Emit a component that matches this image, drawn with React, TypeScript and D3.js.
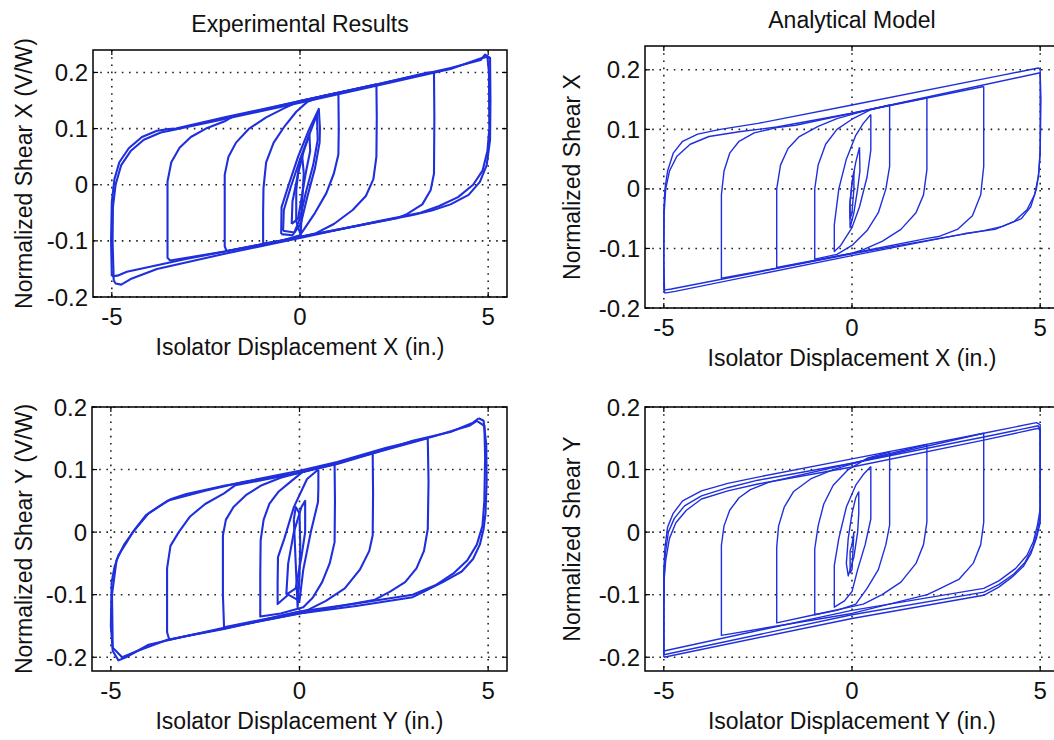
import React from "react";
import * as d3 from "d3";

type Pt = [number, number];

// ---- Experimental X (top left) ----
const expX_5a: Pt[] = [[-5.0,-0.163],[-5.02,-0.1],[-5.0,-0.03],[-4.93,0.01],[-4.8,0.04],[-4.55,0.065],[-4.2,0.085],[-3.8,0.096],[-3.5,0.099],[-3.3,0.1],[-2,0.12],[0,0.149],[2,0.178],[4,0.208],[4.8,0.222],[4.92,0.232],[5.05,0.226],[5.06,0.15],[5.05,0.08],[4.96,0.035],[4.78,0.005],[4.48,-0.018],[4.0,-0.035],[3.5,-0.046],[3.0,-0.054],[1,-0.08],[-1,-0.106],[-3,-0.132],[-4.6,-0.155],[-4.85,-0.162],[-5.0,-0.163]];
const expX_5b: Pt[] = [[-4.95,-0.17],[-4.98,-0.1],[-4.97,-0.04],[-4.9,0.0],[-4.75,0.035],[-4.5,0.06],[-4.15,0.08],[-3.7,0.093],[-3.4,0.097],[-2,0.117],[0,0.146],[2,0.176],[4,0.206],[4.85,0.226],[4.98,0.228],[5.02,0.2],[5.03,0.1],[4.98,0.06],[4.85,0.025],[4.6,0.0],[4.2,-0.022],[3.7,-0.038],[3.2,-0.05],[2,-0.066],[0,-0.095],[-2,-0.123],[-3.8,-0.15],[-4.5,-0.168],[-4.75,-0.178],[-4.9,-0.176],[-4.95,-0.17]];
const expX_35: Pt[] = [[3.56,0.2],[3.57,0.12],[3.56,0.02],[3.47,-0.01],[3.25,-0.035],[2.85,-0.052],[2.6,-0.059],[0,-0.093],[-2,-0.119],[-3.45,-0.135],[-3.52,-0.13],[-3.52,0.006],[-3.42,0.04],[-3.2,0.066],[-2.9,0.085],[-2.5,0.1],[-2.0,0.113],[-1.8,0.121],[0,0.149],[2,0.178],[3.4,0.2],[3.56,0.2]];
const expX_2: Pt[] = [[2.03,0.179],[2.04,0.12],[2.03,0.05],[1.95,0.01],[1.75,-0.02],[1.4,-0.045],[0.9,-0.07],[0.4,-0.087],[0,-0.093],[-1,-0.106],[-1.95,-0.118],[-2.0,-0.11],[-2.0,0.018],[-1.9,0.05],[-1.7,0.075],[-1.35,0.1],[-0.9,0.12],[-0.4,0.137],[0,0.149],[1,0.164],[2.03,0.179]];
const expX_1: Pt[] = [[1.02,0.164],[1.03,0.1],[1.02,0.054],[0.9,0.02],[0.7,-0.015],[0.4,-0.05],[0.15,-0.075],[0,-0.09],[-0.5,-0.1],[-0.98,-0.105],[-0.98,-0.05],[-0.97,-0.006],[-0.9,0.04],[-0.7,0.075],[-0.4,0.105],[-0.1,0.13],[0.2,0.148],[0.6,0.158],[1.02,0.164]];
const expX_05a: Pt[] = [[-0.5,-0.088],[-0.49,-0.04],[-0.3,0.0],[-0.05,0.05],[0.25,0.1],[0.5,0.135],[0.53,0.1],[0.52,0.075],[0.4,0.03],[0.2,-0.02],[0.02,-0.07],[-0.2,-0.09],[-0.5,-0.088]];
const expX_05b: Pt[] = [[-0.45,-0.082],[-0.43,-0.045],[-0.25,-0.005],[0.0,0.045],[0.28,0.095],[0.45,0.125],[0.47,0.08],[0.35,0.035],[0.15,-0.015],[0.0,-0.06],[-0.15,-0.085],[-0.45,-0.082]];
const expX_025: Pt[] = [[-0.22,-0.07],[-0.2,-0.03],[-0.05,0.02],[0.1,0.06],[0.25,0.09],[0.27,0.06],[0.15,0.02],[0.05,-0.02],[-0.05,-0.06],[-0.22,-0.07]];
const expX_01: Pt[] = [[-0.1,-0.065],[-0.1,-0.01],[-0.02,0.04],[0.06,0.05],[0.1,0.02],[0.05,-0.04],[0.02,-0.09],[-0.1,-0.065]];

// ---- Analytical X (top right) ----
const anX_5a: Pt[] = [[-5.0,-0.17],[-5.0,-0.1],[-5.0,-0.035],[-4.97,0.0],[-4.9,0.03],[-4.75,0.06],[-4.5,0.08],[-4.1,0.092],[-3.5,0.1],[-2.5,0.11],[0,0.141],[4,0.191],[4.95,0.203],[5.0,0.2],[5.0,0.13],[5.0,0.07],[4.97,0.03],[4.9,0.0],[4.75,-0.03],[4.5,-0.05],[4.0,-0.063],[3.5,-0.07],[0,-0.109],[-4.8,-0.168],[-5.0,-0.17]];
const anX_5b: Pt[] = [[-4.98,-0.175],[-5.0,-0.12],[-4.99,-0.04],[-4.95,0.0],[-4.85,0.03],[-4.65,0.055],[-4.3,0.075],[-3.8,0.088],[-3,0.096],[-2,0.104],[0,0.127],[5,0.195],[5.02,0.15],[5.0,0.06],[4.95,0.02],[4.85,-0.01],[4.65,-0.035],[4.3,-0.055],[3.8,-0.068],[3.0,-0.075],[0,-0.112],[-4.7,-0.172],[-4.98,-0.175]];
const anX_35: Pt[] = [[3.5,0.172],[3.5,0.1],[3.5,0.038],[3.42,-0.01],[3.2,-0.045],[2.8,-0.068],[2.3,-0.08],[2.0,-0.083],[0,-0.108],[-2,-0.133],[-3.47,-0.15],[-3.47,-0.08],[-3.47,-0.01],[-3.4,0.03],[-3.25,0.06],[-3.0,0.08],[-2.6,0.094],[-2.0,0.103],[-1.5,0.107],[0,0.127],[3.5,0.172]];
const anX_2: Pt[] = [[1.99,0.153],[1.99,0.1],[1.99,0.032],[1.9,-0.01],[1.7,-0.04],[1.3,-0.068],[0.8,-0.088],[0.3,-0.102],[0,-0.108],[-2.0,-0.132],[-2.0,-0.06],[-2.0,0.0],[-1.9,0.04],[-1.7,0.068],[-1.4,0.088],[-0.9,0.105],[-0.4,0.118],[0.5,0.134],[1.99,0.153]];
const anX_1: Pt[] = [[1.0,0.141],[1.0,0.09],[1.0,0.038],[0.9,0.0],[0.7,-0.04],[0.4,-0.07],[0.0,-0.095],[-0.4,-0.11],[-0.99,-0.118],[-0.99,-0.05],[-0.99,0.0],[-0.9,0.04],[-0.7,0.075],[-0.4,0.1],[0,0.117],[0.5,0.133],[1.0,0.141]];
const anX_05: Pt[] = [[0.5,0.125],[0.5,0.09],[0.5,0.065],[0.4,0.02],[0.2,-0.03],[0.0,-0.065],[-0.3,-0.095],[-0.47,-0.105],[-0.47,-0.08],[-0.47,-0.06],[-0.35,0.0],[-0.15,0.05],[0.1,0.09],[0.3,0.11],[0.5,0.125]];
const anX_025: Pt[] = [[0.2,0.07],[0.21,0.03],[0.15,0.0],[0.05,-0.04],[-0.05,-0.065],[-0.06,-0.03],[0.0,0.01],[0.1,0.045],[0.2,0.07]];
const anX_01: Pt[] = [[0.05,0.03],[0.05,0.0],[0.0,-0.04],[-0.05,-0.05],[-0.05,-0.02],[0.0,0.01],[0.05,0.03]];

// ---- Experimental Y (bottom left) ----
const expY_5a: Pt[] = [[4.75,0.182],[4.88,0.178],[4.95,0.14],[4.96,0.08],[4.93,0.03],[4.88,0.005],[4.78,-0.02],[4.6,-0.043],[4.3,-0.063],[3.8,-0.08],[3.3,-0.095],[3,-0.104],[1.5,-0.118],[0,-0.13],[-1.5,-0.148],[-3,-0.166],[-4,-0.18],[-4.6,-0.2],[-4.8,-0.205],[-4.95,-0.19],[-5.0,-0.15],[-4.98,-0.08],[-4.9,-0.055],[-4.8,-0.037],[-4.6,-0.018],[-4.42,0.0],[-4.07,0.027],[-3.7,0.042],[-3.4,0.053],[-3,0.061],[-2,0.074],[-1,0.085],[0,0.095],[1,0.109],[2,0.127],[3,0.146],[4,0.16],[4.6,0.175],[4.75,0.182]];
const expY_5b: Pt[] = [[4.7,0.178],[4.9,0.17],[4.92,0.12],[4.9,0.05],[4.85,0.01],[4.7,-0.02],[4.45,-0.045],[4.1,-0.065],[3.6,-0.085],[3,-0.1],[1.5,-0.114],[0,-0.127],[-2,-0.155],[-3.5,-0.172],[-4.3,-0.19],[-4.7,-0.2],[-4.95,-0.185],[-4.97,-0.1],[-4.85,-0.045],[-4.65,-0.02],[-4.35,0.005],[-4.0,0.03],[-3.5,0.05],[-2.5,0.066],[-1.5,0.08],[0,0.098],[1,0.112],[2.3,0.135],[3.5,0.152],[4.5,0.17],[4.7,0.178]];
const expY_35: Pt[] = [[3.4,0.15],[3.42,0.08],[3.4,0.005],[3.3,-0.03],[3.1,-0.058],[2.8,-0.08],[2.4,-0.095],[2,-0.108],[0,-0.13],[-2,-0.153],[-3.45,-0.172],[-3.51,-0.16],[-3.51,-0.058],[-3.42,-0.022],[-3.2,0.0],[-2.9,0.025],[-2.5,0.045],[-2.0,0.062],[-1.7,0.075],[0,0.095],[2,0.127],[3.4,0.15]];
const expY_2: Pt[] = [[1.94,0.127],[1.95,0.06],[1.94,-0.005],[1.85,-0.03],[1.6,-0.06],[1.2,-0.09],[0.7,-0.11],[0.2,-0.125],[-1,-0.14],[-2.0,-0.152],[-2.03,-0.1],[-2.03,-0.005],[-1.95,0.02],[-1.75,0.04],[-1.4,0.06],[-1.0,0.075],[-0.5,0.087],[0,0.095],[1,0.11],[1.94,0.127]];
const expY_1: Pt[] = [[0.93,0.108],[0.94,0.05],[0.93,-0.016],[0.8,-0.05],[0.6,-0.08],[0.35,-0.105],[0.1,-0.12],[-0.5,-0.13],[-1.04,-0.135],[-1.04,-0.07],[-1.03,-0.013],[-0.95,0.02],[-0.8,0.045],[-0.55,0.065],[-0.25,0.08],[0.1,0.097],[0.5,0.104],[0.93,0.108]];
const expY_05: Pt[] = [[0.5,0.1],[0.5,0.07],[0.49,0.048],[0.3,0.0],[0.1,-0.06],[0.0,-0.11],[-0.3,-0.1],[-0.58,-0.115],[-0.58,-0.08],[-0.57,-0.04],[-0.4,-0.01],[-0.15,0.04],[0.2,0.085],[0.5,0.1]];
const expY_025: Pt[] = [[-0.35,-0.1],[-0.3,-0.05],[-0.15,0.0],[0.05,0.04],[0.15,0.05],[0.15,0.0],[0.05,-0.04],[-0.1,-0.09],[-0.35,-0.1]];
const expY_01: Pt[] = [[-0.15,0.02],[-0.1,0.04],[0.0,0.03],[0.02,-0.02],[0.0,-0.07],[-0.05,-0.12],[-0.1,-0.05],[-0.15,0.02]];

// ---- Analytical Y (bottom right) ----
const anY_5a: Pt[] = [[-5.0,-0.19],[-5.0,-0.12],[-5.0,-0.06],[-4.97,-0.025],[-4.9,0.008],[-4.75,0.03],[-4.5,0.05],[-4.0,0.066],[-3.3,0.078],[-2.5,0.088],[0,0.117],[3.5,0.158],[4.9,0.175],[5.0,0.172],[5.0,0.1],[5.0,0.037],[4.93,0.012],[4.82,-0.015],[4.65,-0.037],[4.35,-0.058],[3.9,-0.078],[3.5,-0.09],[0,-0.125],[-5.0,-0.19]];
const anY_5b: Pt[] = [[-5.0,-0.196],[-5.0,-0.12],[-4.99,-0.07],[-4.96,-0.035],[-4.88,0.0],[-4.72,0.022],[-4.45,0.042],[-4.0,0.058],[-3.3,0.071],[-2.5,0.083],[0,0.11],[3.5,0.152],[4.95,0.17],[5.0,0.165],[5.0,0.09],[5.0,0.025],[4.92,0.0],[4.8,-0.025],[4.6,-0.048],[4.3,-0.067],[3.9,-0.084],[3.5,-0.096],[0,-0.132],[-5.0,-0.196]];
const anY_5c: Pt[] = [[-5.0,-0.2],[-5.0,-0.13],[-4.99,-0.075],[-4.95,-0.045],[-4.85,-0.01],[-4.68,0.015],[-4.4,0.035],[-4.0,0.053],[-3.3,0.066],[-2.5,0.077],[0,0.104],[3.5,0.147],[4.95,0.166],[5.0,0.162],[5.0,0.08],[5.0,0.015],[4.9,-0.01],[4.75,-0.035],[4.55,-0.055],[4.25,-0.072],[3.9,-0.088],[3.5,-0.101],[0,-0.138],[-5.0,-0.2]];
const anY_35: Pt[] = [[3.5,0.158],[3.5,0.09],[3.5,0.016],[3.42,-0.02],[3.22,-0.05],[2.85,-0.075],[2.35,-0.09],[2.0,-0.1],[0,-0.13],[-3.47,-0.165],[-3.47,-0.1],[-3.47,-0.021],[-3.4,0.01],[-3.25,0.035],[-3.0,0.055],[-2.7,0.068],[-2.2,0.08],[0,0.11],[3.5,0.158]];
const anY_2: Pt[] = [[1.99,0.14],[1.99,0.08],[1.99,0.016],[1.9,-0.02],[1.7,-0.05],[1.3,-0.08],[0.8,-0.1],[0.3,-0.115],[-1,-0.132],[-2.0,-0.145],[-2.0,-0.08],[-2.0,-0.024],[-1.95,0.01],[-1.8,0.04],[-1.55,0.065],[-1.1,0.085],[-0.5,0.1],[0.5,0.118],[1.99,0.14]];
const anY_1: Pt[] = [[1.0,0.128],[1.0,0.07],[1.0,0.011],[0.9,-0.02],[0.7,-0.06],[0.4,-0.09],[0.1,-0.115],[-0.4,-0.125],[-0.99,-0.132],[-0.99,-0.08],[-0.99,-0.027],[-0.9,0.01],[-0.75,0.045],[-0.5,0.075],[-0.1,0.1],[0.4,0.118],[1.0,0.128]];
const anY_05: Pt[] = [[0.5,0.105],[0.5,0.06],[0.5,0.021],[0.35,-0.02],[0.15,-0.06],[0.0,-0.095],[-0.2,-0.11],[-0.47,-0.12],[-0.47,-0.09],[-0.47,-0.053],[-0.35,-0.01],[-0.15,0.04],[0.1,0.075],[0.3,0.092],[0.5,0.105]];
const anY_025: Pt[] = [[0.18,0.065],[0.18,0.03],[0.15,0.0],[0.05,-0.04],[-0.1,-0.07],[-0.15,-0.05],[-0.1,-0.01],[0.0,0.03],[0.1,0.055],[0.18,0.065]];
const anY_01: Pt[] = [[0.0,-0.02],[0.05,0.0],[0.0,-0.06],[-0.05,-0.065],[-0.05,-0.03],[0.0,-0.02]];

const xTicks = [-5, 0, 5];
const yTicks = [-0.2, -0.1, 0, 0.1, 0.2];
const xTickLabels = ["-5", "0", "5"];
const yTickLabels = ["-0.2", "-0.1", "0", "0.1", "0.2"];

const BLUE = "#1f2fdc";
const FONT = "'Liberation Sans', Arial, sans-serif";

interface PanelProps {
  left: number; top: number; width: number; height: number;
  ylim: [number, number];
  title?: string; xlabel: string; ylabel: string; ylabelX: number;
  loops: Pt[][]; lw: number;
}

function Panel(p: PanelProps) {
  const x = d3.scaleLinear().domain([-5.5, 5.5]).range([p.left, p.left + p.width]);
  const y = d3.scaleLinear().domain(p.ylim).range([p.top + p.height, p.top]);
  const line = d3.line<Pt>().x(d => x(d[0])).y(d => y(d[1]));
  const bottom = p.top + p.height;
  const right = p.left + p.width;
  const cx = p.left + p.width / 2;
  const cy = p.top + p.height / 2;
  return (
    <g>
      {/* grid */}
      {xTicks.map(t => (
        <line key={"gx" + t} x1={x(t)} x2={x(t)} y1={p.top} y2={bottom}
          stroke="#222" strokeWidth={1.6} strokeDasharray="1.6,5.6" />
      ))}
      {yTicks.map(t => (
        <line key={"gy" + t} x1={p.left} x2={right} y1={y(t)} y2={y(t)}
          stroke="#222" strokeWidth={1.6} strokeDasharray="1.6,5.6" />
      ))}
      {/* data */}
      {p.loops.map((l, i) => (
        <path key={i} d={line(l) || ""} fill="none" stroke={BLUE} strokeWidth={p.lw} strokeLinejoin="round" />
      ))}
      {/* box + ticks */}
      <rect x={p.left} y={p.top} width={p.width} height={p.height} fill="none" stroke="#000" strokeWidth={1.5} />
      {xTicks.map(t => (
        <g key={"tx" + t}>
          <line x1={x(t)} x2={x(t)} y1={bottom} y2={bottom - 5} stroke="#000" strokeWidth={1.2} />
          <line x1={x(t)} x2={x(t)} y1={p.top} y2={p.top + 5} stroke="#000" strokeWidth={1.2} />
        </g>
      ))}
      {yTicks.map(t => (
        <g key={"ty" + t}>
          <line x1={p.left} x2={p.left + 5} y1={y(t)} y2={y(t)} stroke="#000" strokeWidth={1.2} />
          <line x1={right} x2={right - 5} y1={y(t)} y2={y(t)} stroke="#000" strokeWidth={1.2} />
        </g>
      ))}
      {/* tick labels */}
      {xTicks.map((t, i) => (
        <text key={"lx" + t} x={x(t)} y={bottom + 28} textAnchor="middle" fontSize={24} fontFamily={FONT} fill="#111">{xTickLabels[i]}</text>
      ))}
      {yTicks.map((t, i) => (
        <text key={"ly" + t} x={p.left - 5} y={y(t) + 8.5} textAnchor="end" fontSize={24} fontFamily={FONT} fill="#111">{yTickLabels[i]}</text>
      ))}
      {p.title && (
        <text x={cx} y={p.top - 18} textAnchor="middle" fontSize={23} fontFamily={FONT} fill="#111">{p.title}</text>
      )}
      <text x={cx} y={bottom + 58} textAnchor="middle" fontSize={23} fontFamily={FONT} fill="#111">{p.xlabel}</text>
      <text transform={`translate(${p.ylabelX},${cy}) rotate(-90)`} textAnchor="middle" fontSize={23} fontFamily={FONT} fill="#111">{p.ylabel}</text>
    </g>
  );
}

export default function App() {
  return (
    <svg width={1054} height={740} style={{ position: "absolute", left: 0, top: 0, background: "#fff", overflow: "hidden" }}>
      <rect x={0} y={0} width={1054} height={740} fill="#fff" />
      <Panel left={93} top={50} width={414} height={247} ylim={[-0.2, 0.24]}
        title="Experimental Results" xlabel="Isolator Displacement X (in.)" ylabel="Normalized Shear X  (V/W)" ylabelX={32}
        loops={[expX_5a, expX_5b, expX_35, expX_2, expX_1, expX_05a, expX_05b, expX_025, expX_01]} lw={2.1} />
      <Panel left={645} top={46} width={414} height={262} ylim={[-0.2, 0.24]}
        title="Analytical Model" xlabel="Isolator Displacement X (in.)" ylabel="Normalized Shear X" ylabelX={580}
        loops={[anX_5a, anX_5b, anX_35, anX_2, anX_1, anX_05, anX_025, anX_01]} lw={1.4} />
      <Panel left={92} top={407} width={415} height={264} ylim={[-0.222, 0.2]}
        xlabel="Isolator Displacement Y (in.)" ylabel="Normalized Shear Y  (V/W)" ylabelX={32}
        loops={[expY_5a, expY_5b, expY_35, expY_2, expY_1, expY_05, expY_025, expY_01]} lw={2.1} />
      <Panel left={645} top={407} width={414} height={264} ylim={[-0.222, 0.2]}
        xlabel="Isolator Displacement Y (in.)" ylabel="Normalized Shear Y" ylabelX={580}
        loops={[anY_5a, anY_5b, anY_5c, anY_35, anY_2, anY_1, anY_05, anY_025, anY_01]} lw={1.4} />
    </svg>
  );
}
